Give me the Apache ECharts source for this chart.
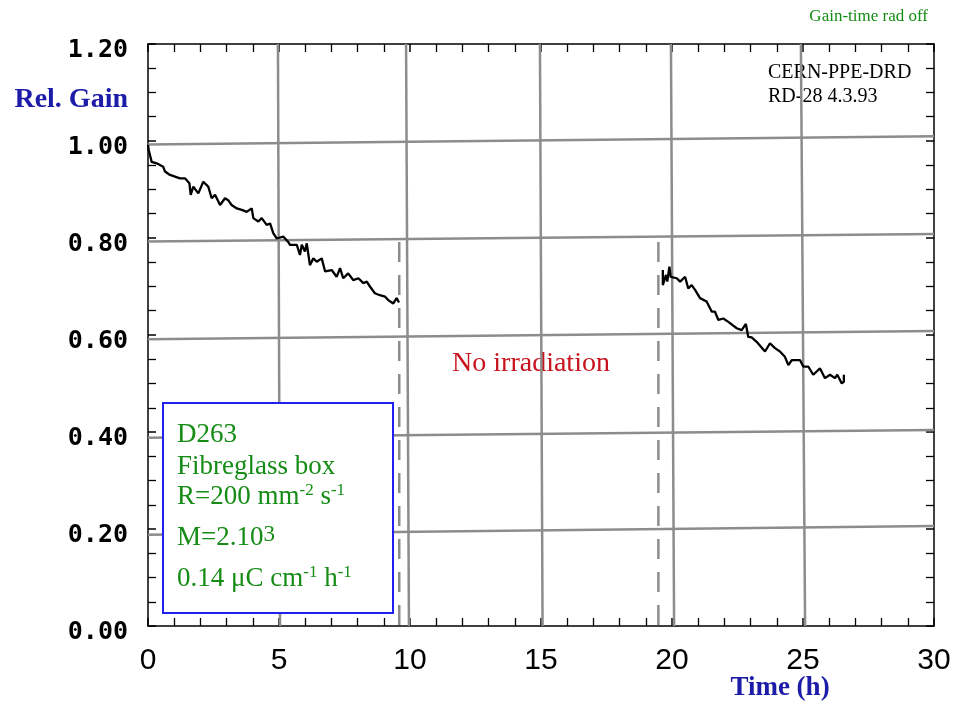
<!DOCTYPE html>
<html><head><meta charset="utf-8">
<script src="https://cdn.jsdelivr.net/npm/echarts@6/dist/echarts.min.js"></script>
<style>html,body{margin:0;padding:0;background:#fff}#c{width:961px;height:708px}</style>
</head><body><div id="c"></div>
<script>
// ---- data (time in h, relative gain) ----
const seg1 = [[0,0.992],[0.03,0.981],[0.14,0.957],[0.33,0.954],[0.39,0.957],[0.58,0.947],[0.65,0.937],[0.84,0.930],[1.22,0.923],[1.41,0.923],[1.58,0.913],[1.63,0.889],[1.73,0.906],[1.92,0.892],[2.11,0.916],[2.30,0.906],[2.43,0.882],[2.56,0.889],[2.75,0.868],[2.94,0.882],[3.06,0.878],[3.19,0.868],[3.39,0.861],[3.58,0.858],[3.77,0.854],[3.96,0.861],[4.02,0.841],[4.21,0.834],[4.34,0.841],[4.53,0.827],[4.66,0.830],[4.78,0.810],[4.91,0.799],[5.16,0.803],[5.35,0.792],[5.42,0.786],[5.68,0.786],[5.80,0.765],[5.87,0.786],[5.99,0.772],[6.06,0.789],[6.18,0.744],[6.31,0.758],[6.44,0.751],[6.63,0.758],[6.76,0.731],[7.01,0.734],[7.20,0.720],[7.33,0.738],[7.45,0.717],[7.64,0.727],[7.84,0.713],[8.03,0.717],[8.22,0.707],[8.35,0.710],[8.47,0.700],[8.66,0.686],[8.85,0.682],[9.05,0.679],[9.17,0.672],[9.36,0.665],[9.49,0.676],[9.58,0.667]];
const seg2 = [[19.65,0.734],[19.65,0.703],[19.69,0.700],[19.77,0.724],[19.82,0.710],[19.90,0.741],[19.95,0.720],[20.18,0.717],[20.31,0.710],[20.50,0.720],[20.62,0.696],[20.75,0.703],[20.88,0.693],[21.07,0.676],[21.32,0.669],[21.52,0.648],[21.64,0.648],[21.77,0.631],[21.96,0.634],[22.15,0.627],[22.47,0.614],[22.66,0.610],[22.82,0.623],[22.91,0.596],[23.04,0.595],[23.23,0.586],[23.55,0.566],[23.74,0.583],[23.93,0.573],[24.12,0.566],[24.31,0.555],[24.44,0.538],[24.57,0.548],[24.89,0.548],[25.01,0.535],[25.20,0.535],[25.39,0.518],[25.65,0.531],[25.84,0.511],[26.03,0.518],[26.22,0.511],[26.31,0.518],[26.48,0.500],[26.56,0.504],[26.56,0.518]];
// hand-drawn grid lines (value at t=0 and t=30 / time at gain=0 and gain=1.2)
const hGridAt0  = [0.993,0.793,0.591,0.388,0.188];
const hGridAt30 = [1.010,0.808,0.608,0.404,0.206];
const vGridBottom = [5.04,9.96,15.06,20.08,25.08];
const vGridTop    = [4.96,9.85,14.96,19.96,24.92];
// irradiation stop / restart markers
const pauseTimes = [9.59,19.48];
const pauseRange = [0.002,0.811];
const xMin=0, xMax=30, xStep=5, yMin=0, yMax=1.2, yStep=0.2;

const serif = '"Liberation Serif","Times New Roman",serif';
const gridColor = '#8c8c8c';
const series = [];
hGridAt0.forEach((a,i)=>series.push({type:'line',data:[[xMin,a],[xMax,hGridAt30[i]]],showSymbol:false,silent:true,z:1,lineStyle:{color:gridColor,width:2.5}}));
vGridTop.forEach((t,i)=>series.push({type:'line',data:[[vGridBottom[i],yMin],[t,yMax]],showSymbol:false,silent:true,z:1,lineStyle:{color:gridColor,width:2.5}}));
pauseTimes.forEach(t=>series.push({type:'line',data:[[t,pauseRange[0]],[t,pauseRange[1]]],showSymbol:false,silent:true,z:1,lineStyle:{color:gridColor,width:2.5,type:[20,13]}}));
[seg1,seg2].forEach(s=>series.push({type:'line',data:s,showSymbol:false,silent:true,z:5,lineStyle:{color:'#000',width:2.3}}));

const tickCommon = {
  axisLine:{show:true,onZero:false,lineStyle:{color:'#000',width:1.5}},
  axisTick:{show:true,inside:true,length:8,lineStyle:{color:'#000',width:1.5}},
  minorTick:{show:true,length:8,lineStyle:{color:'#000',width:1.3}},
  splitLine:{show:false}, minorSplitLine:{show:false}
};
const xBase = {type:'value',min:xMin,max:xMax,interval:xStep};
const yBase = {type:'value',min:yMin,max:yMax,interval:yStep};

const sup = {fontSize:17,fontFamily:serif,fill:'#158c15',lineHeight:20,verticalAlign:'top'};
const main = {fontSize:27,fontFamily:serif,fill:'#158c15',lineHeight:30};
function boxText(y, text){
  return {type:'text',x:177,y:y,z:101,style:{text:text,font:'27px '+serif,fill:'#158c15',align:'left',textAlign:'left',verticalAlign:'middle',textVerticalAlign:'middle',rich:{m:main,s:sup,b:{fontSize:23,fontFamily:serif,fill:'#158c15',lineHeight:17,verticalAlign:'top'}}}};
}

const option = {
  animation:false,
  backgroundColor:'#fff',
  grid:{left:148,right:27,top:44,bottom:82,containLabel:false,outerBoundsMode:'none'},
  xAxis:[
    Object.assign({},xBase,tickCommon,{position:'bottom',minorTick:Object.assign({},tickCommon.minorTick,{splitNumber:5}),
      axisLabel:{show:true,margin:20,color:'#000',fontSize:30,fontFamily:'"Liberation Sans",Arial,sans-serif'}}),
    Object.assign({},xBase,tickCommon,{position:'top',minorTick:Object.assign({},tickCommon.minorTick,{splitNumber:5}),axisLabel:{show:false}})
  ],
  yAxis:[
    Object.assign({},yBase,tickCommon,{position:'left',minorTick:Object.assign({},tickCommon.minorTick,{splitNumber:4}),
      axisLabel:{show:true,margin:20,color:'#000',fontSize:25,fontWeight:'bold',fontFamily:'"DejaVu Sans Mono",monospace',verticalAlign:'top',lineHeight:13,formatter:v=>v.toFixed(2)}}),
    Object.assign({},yBase,tickCommon,{position:'right',minorTick:Object.assign({},tickCommon.minorTick,{splitNumber:4}),axisLabel:{show:false}})
  ],
  series:series,
  graphic:[
    {type:'text',x:928,y:17,style:{text:'Gain-time rad off',font:'17px '+serif,fill:'#158c15',align:'right',textAlign:'right',verticalAlign:'middle',textVerticalAlign:'middle'}},
    {type:'text',x:768,y:73,style:{text:'CERN-PPE-DRD',font:'20px '+serif,fill:'#000',align:'left',textAlign:'left',verticalAlign:'middle',textVerticalAlign:'middle'}},
    {type:'text',x:768,y:97,style:{text:'RD-28 4.3.93',font:'20px '+serif,fill:'#000',align:'left',textAlign:'left',verticalAlign:'middle',textVerticalAlign:'middle'}},
    {type:'text',x:128,y:100,style:{text:'Rel. Gain',font:'bold 28px '+serif,fill:'#1c1ca8',align:'right',textAlign:'right',verticalAlign:'middle',textVerticalAlign:'middle'}},
    {type:'text',x:780,y:688,style:{text:'Time (h)',font:'bold 27px '+serif,fill:'#1c1ca8',align:'center',textAlign:'center',verticalAlign:'middle',textVerticalAlign:'middle'}},
    {type:'text',x:531,y:364,style:{text:'No irradiation',font:'28px '+serif,fill:'#c8141e',align:'center',textAlign:'center',verticalAlign:'middle',textVerticalAlign:'middle'}},
    {type:'rect',z:100,shape:{x:163,y:403,width:230,height:210},style:{fill:'#fff',stroke:'#2020f0',lineWidth:2}},
    boxText(435,'{m|D263}'),
    boxText(467,'{m|Fibreglass box}'),
    boxText(497,'{m|R=200 mm}{s|-2}{m| s}{s|-1}'),
    boxText(538,'{m|M=2.10}{b|3}'),
    boxText(579,'{m|0.14 μC cm}{s|-1}{m| h}{s|-1}')
  ]
};
const chart = echarts.init(document.getElementById('c'));
chart.setOption(option);
</script></body></html>
